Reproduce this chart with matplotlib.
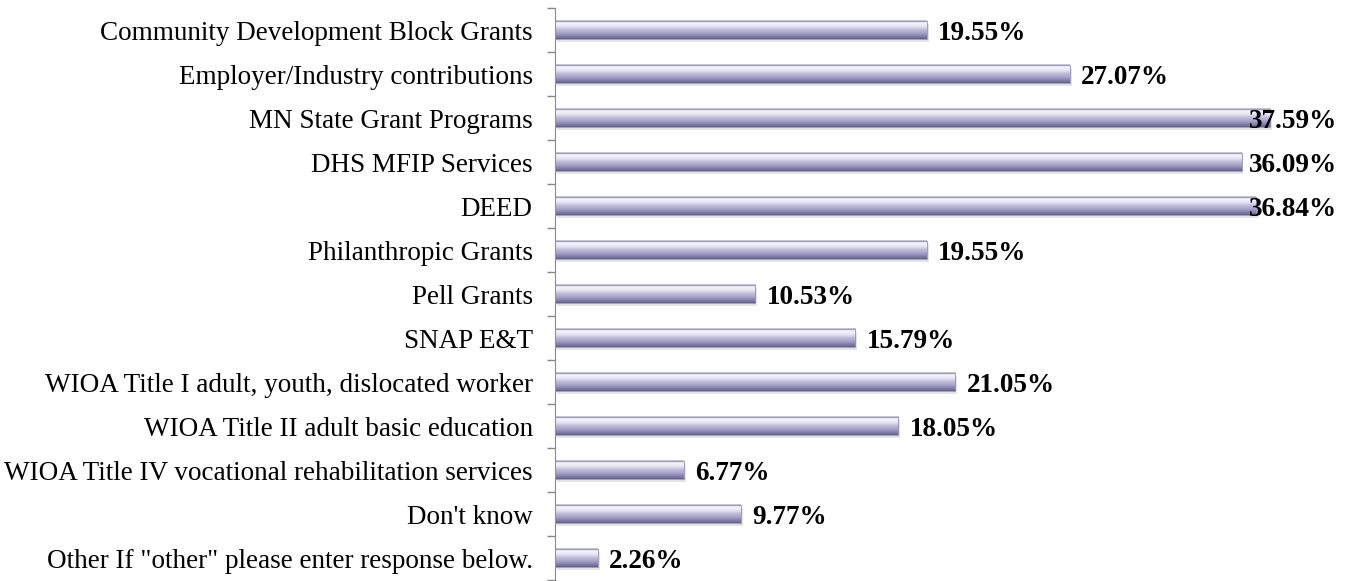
import numpy as np
import matplotlib.pyplot as plt
from matplotlib.colors import LinearSegmentedColormap

# Categories (top to bottom) and percentages
categories = [
    "Community Development Block Grants",
    "Employer/Industry contributions",
    "MN State Grant Programs",
    "DHS MFIP Services",
    "DEED",
    "Philanthropic Grants",
    "Pell Grants",
    "SNAP E&T",
    "WIOA Title I adult, youth, dislocated worker",
    "WIOA Title II adult basic education",
    "WIOA Title IV vocational rehabilitation services",
    "Don't know",
    'Other If "other" please enter response below.',
]
values = [19.55, 27.07, 37.59, 36.09, 36.84, 19.55, 10.53, 15.79,
          21.05, 18.05, 6.77, 9.77, 2.26]

plt.rcParams['font.family'] = ['Liberation Serif', 'DejaVu Serif']

fig = plt.figure(figsize=(13.49, 5.81), dpi=100)
ax = fig.add_axes([0.4114, 0.0017, 0.5641, 0.9845])

n = len(categories)
y = np.arange(n)
h = 0.42

# cylinder-like gradient (top -> bottom)
cmap = LinearSegmentedColormap.from_list(
    'cyl', ['#bcb9d6', '#f6f5fb', '#e6e4f3', '#bebbdb', '#aaa6cb', '#8985ad', '#66638a'])
grad = np.linspace(0, 1, 64).reshape(-1, 1)

ax.set_xlim(0, 40)
ax.set_ylim(n - 0.5, -0.5)

labels = []
for yi, v in zip(y, values):
    # soft shadow
    ax.barh(yi + 0.07, v, height=h, left=0.1, color='#d2d2d2', alpha=0.6, zorder=1)
    ax.imshow(grad, cmap=cmap, aspect='auto', extent=[0, v, yi + h / 2, yi - h / 2],
              zorder=2, interpolation='bilinear')
    ax.barh(yi, v, height=h, color='none', edgecolor='#9692b3', linewidth=0.6, zorder=3)
    t = ax.annotate(f"{v:.2f}%", xy=(v, yi), xytext=(8, 0), textcoords='offset points',
                    va='center_baseline', ha='left', fontsize=19.5, fontweight='bold',
                    color='black', zorder=4, annotation_clip=False)
    labels.append(t)

ax.set_yticks(y)
ax.set_yticklabels(categories, fontsize=19.5)
ax.tick_params(axis='y', which='major', length=0, pad=16)
ax.set_yticks(np.arange(-0.5, n, 1), minor=True)
ax.tick_params(axis='y', which='minor', length=6, color='#888888', width=1)
ax.set_xticks([])
for s in ['top', 'right', 'bottom']:
    ax.spines[s].set_visible(False)
ax.spines['left'].set_color('#888888')

# keep value labels inside the figure (pull back ones that run off the right edge)
fig.canvas.draw()
r = fig.canvas.get_renderer()
for t in labels:
    bb = t.get_window_extent(r)
    limit = fig.bbox.width - 12
    if bb.x1 > limit:
        shift = (bb.x1 - limit) * 72 / fig.dpi
        t.set_position((8 - shift, 0))

fig.savefig('out.png', dpi=100)
